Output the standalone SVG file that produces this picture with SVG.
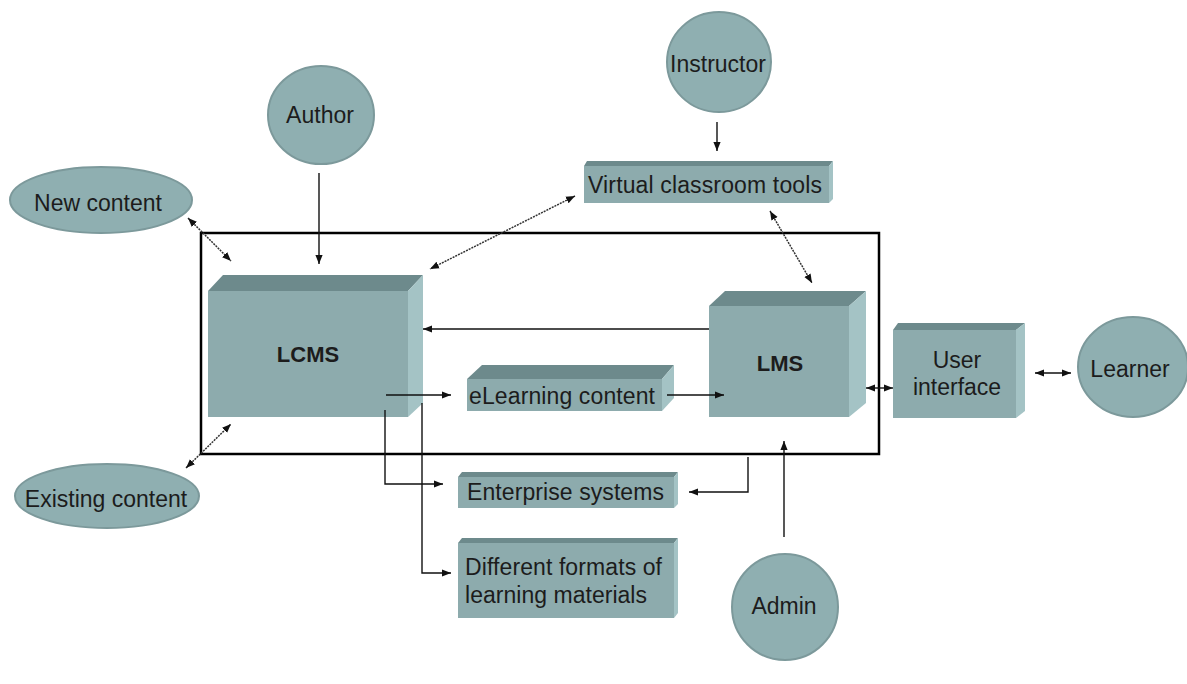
<svg xmlns="http://www.w3.org/2000/svg" width="1187" height="684" viewBox="0 0 1187 684">
<style>
  text{font-family:"Liberation Sans",Arial,sans-serif;font-size:23px;fill:#1c1c1c}
  .b{font-weight:bold;font-size:22px}
  .front{fill:#8dabad}
  .top{fill:#6d8a8c}
  .side{fill:#a4c3c5}
  .actor{fill:#8fafb1;stroke:#7c999b;stroke-width:2}
  .ln{fill:none;stroke:#111;stroke-width:1.4}
  .dg{fill:none;stroke:#333;stroke-width:1.5;stroke-dasharray:2 1}
</style>
<defs>
  <marker id="ah" viewBox="0 0 10 10" refX="10" refY="5" markerWidth="9" markerHeight="9" markerUnits="userSpaceOnUse" orient="auto-start-reverse">
    <path d="M0,1 L10,5 L0,9 Z" fill="#111"/>
  </marker>
</defs>
<rect width="1187" height="684" fill="#fff"/>

<rect id="frame" x="201" y="233" width="678" height="221" fill="none" stroke="#000" stroke-width="2.5"/>

<g id="author"><ellipse class="actor" cx="321" cy="115" rx="53" ry="49"/><text x="320" y="123" text-anchor="middle">Author</text></g>
<g id="instructor"><ellipse class="actor" cx="719" cy="62" rx="52" ry="50"/><text x="718" y="72" text-anchor="middle">Instructor</text></g>
<g id="admin"><ellipse class="actor" cx="785" cy="607" rx="53" ry="53"/><text x="784" y="614" text-anchor="middle">Admin</text></g>
<g id="learner"><ellipse class="actor" cx="1133" cy="367" rx="55" ry="50"/><text x="1130" y="377" text-anchor="middle">Learner</text></g>
<g id="new-content"><ellipse class="actor" cx="101" cy="200" rx="91" ry="33"/><text x="98" y="211" text-anchor="middle">New content</text></g>
<g id="existing-content"><ellipse class="actor" cx="107" cy="496" rx="92" ry="32"/><text x="106" y="507" text-anchor="middle">Existing content</text></g>

<g id="lcms">
  <polygon class="top" points="208,291 223,275 423,275 408,291"/>
  <polygon class="side" points="408,291 423,275 423,403 408,417"/>
  <rect class="front" x="208" y="291" width="200" height="126"/>
  <text class="b" x="308" y="362" text-anchor="middle">LCMS</text>
</g>
<g id="lms">
  <polygon class="top" points="709,306 725,291 866,291 849,306"/>
  <polygon class="side" points="849,306 866,291 866,403 849,417"/>
  <rect class="front" x="709" y="306" width="140" height="111"/>
  <text class="b" x="780" y="371" text-anchor="middle">LMS</text>
</g>
<g id="elearning">
  <polygon class="top" points="467,379 482,365 674,365 662,379"/>
  <polygon class="side" points="662,379 674,365 674,398 662,411"/>
  <rect class="front" x="467" y="379" width="195" height="32"/>
  <text x="469" y="404" textLength="186">eLearning content</text>
</g>
<g id="virtual">
  <polygon class="top" points="584,166 587,161 833,161 829,166"/>
  <polygon class="side" points="829,166 833,161 833,199 829,203"/>
  <rect class="front" x="584" y="166" width="245" height="37"/>
  <text x="588" y="193" textLength="234">Virtual classroom tools</text>
</g>
<g id="enterprise">
  <polygon class="top" points="458,477 462,472 678,472 674,477"/>
  <polygon class="side" points="674,477 678,472 678,504 674,508"/>
  <rect class="front" x="458" y="477" width="216" height="31"/>
  <text x="467" y="500" textLength="197">Enterprise systems</text>
</g>
<g id="formats">
  <polygon class="top" points="458,543 462,538 678,538 674,543"/>
  <polygon class="side" points="674,543 678,538 678,613 674,618"/>
  <rect class="front" x="458" y="543" width="216" height="75"/>
  <text x="465" y="575" textLength="197">Different formats of</text>
  <text x="465" y="603" textLength="182">learning materials</text>
</g>
<g id="user-interface">
  <polygon class="top" points="893,330 898,323 1025,323 1016,330"/>
  <polygon class="side" points="1016,330 1025,323 1025,411 1016,418"/>
  <rect class="front" x="893" y="330" width="123" height="88"/>
  <text x="957" y="368" text-anchor="middle">User</text>
  <text x="957" y="395" text-anchor="middle">interface</text>
</g>

<g id="connectors">
  <line class="ln" x1="319" y1="173" x2="319" y2="264" marker-end="url(#ah)"/>
  <line class="ln" x1="717" y1="122" x2="717" y2="151" marker-end="url(#ah)"/>
  <line class="ln" x1="784" y1="537" x2="784" y2="441" marker-end="url(#ah)"/>
  <line class="dg" x1="575" y1="196" x2="430" y2="269" marker-start="url(#ah)" marker-end="url(#ah)"/>
  <line class="dg" x1="770" y1="211" x2="812" y2="283" marker-start="url(#ah)" marker-end="url(#ah)"/>
  <line class="dg" x1="188" y1="218" x2="231" y2="261" marker-start="url(#ah)" marker-end="url(#ah)"/>
  <line class="dg" x1="186" y1="468" x2="231" y2="424" marker-start="url(#ah)" marker-end="url(#ah)"/>
  <line class="ln" x1="709" y1="329" x2="423" y2="329" marker-end="url(#ah)"/>
  <line class="ln" x1="386" y1="395" x2="451" y2="395" marker-end="url(#ah)"/>
  <line class="ln" x1="667" y1="395" x2="724" y2="395" marker-end="url(#ah)"/>
  <polyline class="ln" points="385,410 385,484 443,484" marker-end="url(#ah)"/>
  <polyline class="ln" points="422,403 422,573 451,573" marker-end="url(#ah)"/>
  <polyline class="ln" points="748,457 748,492 689,492" marker-end="url(#ah)"/>
  <line class="ln" x1="866" y1="388" x2="893" y2="388" marker-start="url(#ah)" marker-end="url(#ah)"/>
  <line class="ln" x1="1035" y1="373" x2="1071" y2="373" marker-start="url(#ah)" marker-end="url(#ah)"/>
</g>
</svg>
